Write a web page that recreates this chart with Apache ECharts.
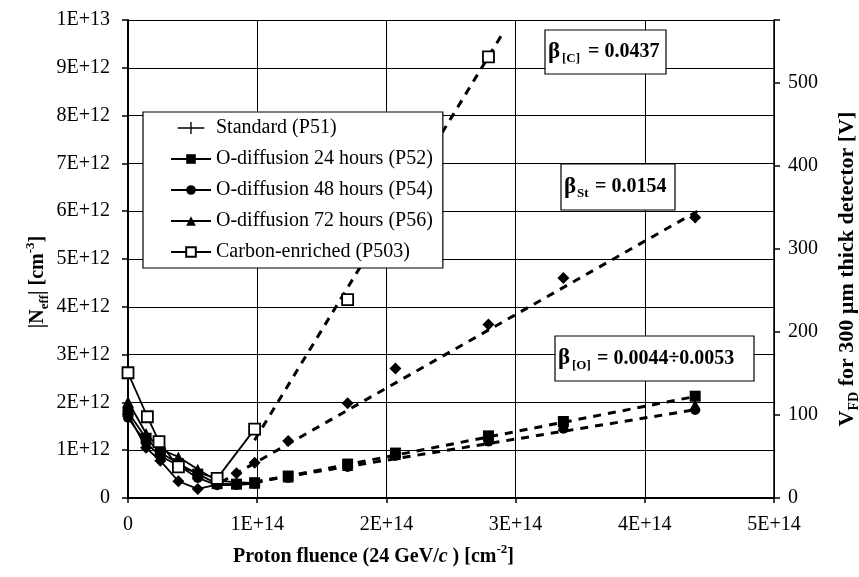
<!DOCTYPE html>
<html><head><meta charset="utf-8">
<script src="https://cdn.jsdelivr.net/npm/echarts@6/dist/echarts.min.js"></script>
<style>html,body{margin:0;padding:0;background:#fff}#c{width:859px;height:577px}</style>
</head><body><div id="c"></div>
<script>
// Fluence in units of 1E+14 cm^-2, |Neff| in units of 1E+12 cm^-3
const seriesNames = ['Standard (P51)', 'O-diffusion 24 hours (P52)', 'O-diffusion 48 hours (P54)', 'O-diffusion 72 hours (P56)', 'Carbon-enriched (P503)'];
const fluenceEarly = [0, 0.14, 0.25, 0.39, 0.54, 0.69, 0.84, 0.98];
const fluenceLate = [1.24, 1.70, 2.07, 2.79, 3.37, 4.39];

const standardEarlyFluence = [0, 0.14, 0.25, 0.39, 0.54, 0.69];
const standardEarly = [1.75, 1.05, 0.78, 0.35, 0.19, 0.28];
const standardLateFluence = [0.84, 0.98, 1.24, 1.70, 2.07, 2.79, 3.37, 4.39];
const standardLate = [0.52, 0.74, 1.19, 1.98, 2.71, 3.63, 4.60, 5.87];

const o24Early = [1.80, 1.25, 0.95, 0.72, 0.50, 0.30, 0.29, 0.32];
const o24Late = [0.46, 0.71, 0.94, 1.30, 1.60, 2.13];
const o48Early = [1.68, 1.15, 0.88, 0.68, 0.42, 0.27, 0.27, 0.30];
const o48Late = [0.42, 0.65, 0.88, 1.18, 1.45, 1.84];
const o72Early = [2.02, 1.35, 1.02, 0.86, 0.60, 0.36, 0.33, 0.31];
const o72Late = [0.44, 0.68, 0.91, 1.24, 1.52, 1.95];

const carbonEarlyFluence = [0, 0.15, 0.24, 0.39, 0.69, 0.98];
const carbonEarly = [2.62, 1.70, 1.18, 0.65, 0.41, 1.44];
const carbonLateFluence = [1.70, 2.79];
const carbonLate = [4.15, 9.23];

// Linear fit lines (end points)
const fitCarbonFluence = [0.98, 2.90];
const fitCarbon = [1.21, 9.72];
const fitStandardFluence = [0.72, 4.42];
const fitStandard = [0.33, 6.02];
const fitOUpperFluence = [0.98, 4.42];
const fitOUpper = [0.32, 2.14];
const fitOLowerFluence = [0.98, 4.42];
const fitOLower = [0.34, 1.86];

const betaLabels = ['= 0.0437', '= 0.0154', '= 0.0044÷0.0053'];
const betaSubs = ['[C]', 'St', '[O]'];

const rightAxisMax = 576; // V_FD corresponding to 1E+13 cm^-3

function pts(xs, ys) { return xs.map((x, i) => [x * 1e14, ys[i] * 1e12]); }
const FONT = 'Liberation Serif';
const fmt = v => v === 0 ? '0' : Number(v).toExponential(0).toUpperCase();

function early(name, xs, ys, symbol, size, fill) {
  return { name, type: 'line', data: pts(xs, ys), symbol, symbolSize: size, z: 5,
    itemStyle: { color: fill || '#000', borderColor: '#000', borderWidth: fill ? 1.8 : 0 },
    lineStyle: { color: '#000', width: 1.8 }, emphasis: { disabled: true } };
}
function late(name, xs, ys, symbol, size, fill) {
  return { name, type: 'scatter', data: pts(xs, ys), symbol, symbolSize: size, z: 6,
    itemStyle: { color: fill || '#000', borderColor: '#000', borderWidth: fill ? 1.8 : 0, opacity: 1 },
    emphasis: { disabled: true } };
}
function fit(name, xs, ys) {
  return { name, type: 'line', data: pts(xs, ys), symbol: 'none', z: 3,
    lineStyle: { color: '#000', width: 3, type: [8, 7] }, emphasis: { disabled: true } };
}

const chart = echarts.init(document.getElementById('c'));
const graphic = [];
// annotation boxes
const boxes = [
  { x: 545, y: 30, w: 121, h: 44, bx: 548, sx: 562, tx: 588 },
  { x: 561, y: 164, w: 114, h: 46, bx: 564, sx: 577, tx: 595 },
  { x: 555, y: 336, w: 199, h: 45, bx: 558, sx: 572, tx: 597 }
];
boxes.forEach((b, i) => {
  const cy = b.y + b.h / 2;
  graphic.push({ type: 'rect', shape: { x: b.x, y: b.y, width: b.w, height: b.h }, z: 50,
    style: { fill: '#fff', stroke: '#000', lineWidth: 1.2 } });
  graphic.push({ type: 'text', x: b.bx, y: cy, z: 51, style: { text: 'β', font: 'bold 23px ' + FONT, fill: '#000', textVerticalAlign: 'middle' } });
  graphic.push({ type: 'text', x: b.sx, y: cy + 7, z: 51, style: { text: betaSubs[i], font: 'bold 13px ' + FONT, fill: '#000', textVerticalAlign: 'middle' } });
  graphic.push({ type: 'text', x: b.tx, y: cy, z: 51, style: { text: betaLabels[i], font: 'bold 20px ' + FONT, fill: '#000', textVerticalAlign: 'middle' } });
});
// axis titles
graphic.push({ type: 'text', x: 233, y: 555, z: 51, style: {
  text: '{b|Proton fluence (24 GeV/}{i|c}{b| ) [cm}{sup|-2}{b|]}', fill: '#000', textVerticalAlign: 'middle',
  rich: { b: { font: 'bold 20px ' + FONT, lineHeight: 24, verticalAlign: 'bottom' }, i: { font: 'italic bold 20px ' + FONT, lineHeight: 24, verticalAlign: 'bottom' }, sup: { font: 'bold 13px ' + FONT, verticalAlign: 'top', lineHeight: 24 } } } });
graphic.push({ type: 'text', x: 36, y: 282, rotation: Math.PI / 2, z: 51, style: {
  text: '{b||N}{sub|eff}{b|| [cm}{sup|-3}{b|]}', fill: '#000', textAlign: 'center', textVerticalAlign: 'middle',
  rich: { b: { font: 'bold 20px ' + FONT, lineHeight: 24, verticalAlign: 'bottom' }, sub: { font: 'bold 13px ' + FONT, lineHeight: 24, verticalAlign: 'bottom', padding: [0, 0, -3, 0] }, sup: { font: 'bold 13px ' + FONT, verticalAlign: 'top', lineHeight: 24 } } } });
graphic.push({ type: 'text', x: 845, y: 269, rotation: Math.PI / 2, z: 51, style: {
  text: '{b|V}{sub|FD}{b| for 300 µm thick detector [V]}', fill: '#000', textAlign: 'center', textVerticalAlign: 'middle',
  rich: { b: { font: 'bold 22px ' + FONT, lineHeight: 26, verticalAlign: 'bottom' }, sub: { font: 'bold 14px ' + FONT, lineHeight: 26, verticalAlign: 'bottom', padding: [0, 0, -3, 0] } } } });

const option = {
  animation: false,
  backgroundColor: '#fff',
  textStyle: { fontFamily: FONT },
  grid: { left: 128, right: 85, top: 20, bottom: 79, containLabel: false },
  legend: {
    left: 143, top: 112, orient: 'vertical', itemGap: 11, itemWidth: 40, itemHeight: 12,
    padding: [6, 10, 6, 27], backgroundColor: '#fff', borderColor: '#000', borderWidth: 1.2,
    textStyle: { fontFamily: FONT, fontSize: 20, color: '#000' }, z: 40,
    data: [
      { name: seriesNames[0], icon: 'path://M0,9H40V11H0Z M19,1H21V19H19Z' },
      seriesNames[1], seriesNames[2], seriesNames[3], seriesNames[4]
    ]
  },
  xAxis: {
    type: 'value', min: 0, max: 5e14, interval: 1e14,
    axisLine: { onZero: false, lineStyle: { color: '#000', width: 2 } },
    axisTick: { show: true, length: 5, lineStyle: { color: '#000', width: 1.5 } },
    axisLabel: { formatter: fmt, color: '#000', fontFamily: FONT, fontSize: 20, margin: 17 },
    splitLine: { show: true, lineStyle: { color: '#000', width: 1 } }
  },
  yAxis: [{
    type: 'value', min: 0, max: 1e13, interval: 1e12,
    axisLine: { show: true, onZero: false, lineStyle: { color: '#000', width: 2 } },
    axisTick: { show: true, length: 6, lineStyle: { color: '#000', width: 1.5 } },
    axisLabel: { formatter: fmt, color: '#000', fontFamily: FONT, fontSize: 20, margin: 18 },
    splitLine: { show: true, lineStyle: { color: '#000', width: 1 } }
  }, {
    type: 'value', min: 0, max: rightAxisMax, interval: 100, position: 'right',
    axisLine: { show: true, onZero: false, lineStyle: { color: '#000', width: 1.5 } },
    axisTick: { show: true, length: 6, lineStyle: { color: '#000', width: 1.5 } },
    axisLabel: { formatter: v => (Math.round(v) % 100 === 0 ? String(Math.round(v)) : ''), color: '#000', fontFamily: FONT, fontSize: 20, margin: 14 },
    splitLine: { show: false }
  }],
  series: [
    fit('fitC', fitCarbonFluence, fitCarbon),
    fit('fitSt', fitStandardFluence, fitStandard),
    fit('fitO1', fitOUpperFluence, fitOUpper),
    fit('fitO2', fitOLowerFluence, fitOLower),
    early(seriesNames[0], standardEarlyFluence, standardEarly, 'diamond', 12),
    early(seriesNames[1], fluenceEarly, o24Early, 'rect', 11),
    early(seriesNames[2], fluenceEarly, o48Early, 'circle', 10),
    early(seriesNames[3], fluenceEarly, o72Early, 'triangle', 11),
    early(seriesNames[4], carbonEarlyFluence, carbonEarly, 'rect', 11, '#fff'),
    late('stLate', standardLateFluence, standardLate, 'diamond', 12),
    late('o24Late', fluenceLate, o24Late, 'rect', 11),
    late('o48Late', fluenceLate, o48Late, 'circle', 10),
    late('o72Late', fluenceLate, o72Late, 'triangle', 11),
    late('cLate', carbonLateFluence, carbonLate, 'rect', 11, '#fff')
  ],
  graphic
};
chart.setOption(option);
</script></body></html>
